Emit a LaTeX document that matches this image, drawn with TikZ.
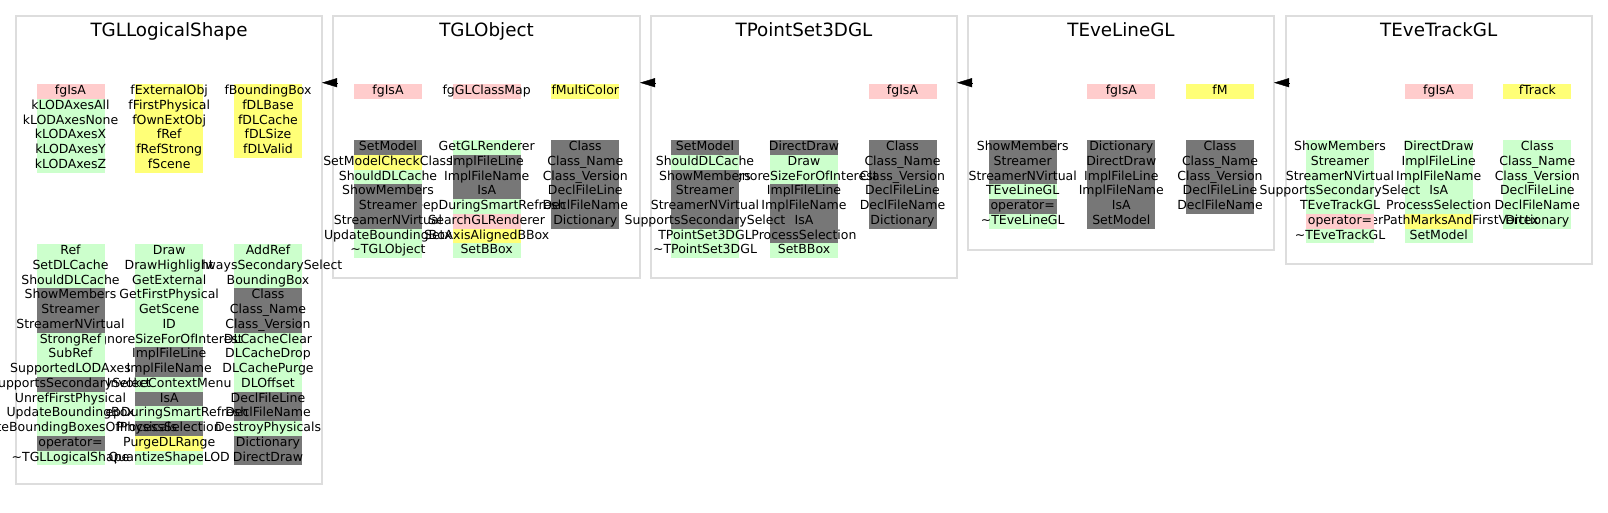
\documentclass[tikz,border=0pt]{standalone}
\usepackage{fontspec}
\setmainfont{DejaVu Sans}
\usetikzlibrary{arrows.meta}
\definecolor{rowP}{HTML}{FFCCCC}
\definecolor{rowG}{HTML}{CCFFCC}
\definecolor{rowY}{HTML}{FFFF77}
\definecolor{rowD}{HTML}{777777}
\definecolor{frameC}{HTML}{DDDDDD}
\tikzset{
  frame/.style={draw=frameC, line width=2pt, rectangle, inner sep=0pt, outer sep=0pt, anchor=north west},
  title/.style={anchor=base, inner sep=0pt, font=\fontsize{18.3}{20}\selectfont},
  lbl/.style={anchor=base, inner sep=0pt, font=\fontsize{12.5}{14}\selectfont},
  inh/.style={-{Triangle[length=15pt,width=9pt]}, line width=0.4pt, black}
}
% #1 name prefix, #2 x centre, #3 y top, #4 list colour/text
\newcommand\mcol[4]{%
  \foreach[count=\ri from 0] \cl/\tx in {#4}{%
    \fill[fill=row\cl] ({#2-34},{#3+\ri*14.75}) rectangle ({#2+34},{#3+(\ri+1)*14.75});}
  \foreach[count=\ri from 0] \cl/\tx in {#4}{%
    \node[lbl] (#1-\ri) at ({#2},{#3+\ri*14.75+10.6}) {\tx};}
}
\begin{document}
\begin{tikzpicture}[x=1pt,y=-1pt]
\fill[white] (0,0) rectangle (1608,512);
\useasboundingbox (0,0) rectangle (1608,512);

% frames
\node[frame, minimum width=306pt, minimum height=468.5pt] (F1) at (16,15.5) {};
\node[frame, minimum width=307pt, minimum height=262.5pt] (F2) at (333,15.5) {};
\node[frame, minimum width=306pt, minimum height=262.5pt] (F3) at (651,15.5) {};
\node[frame, minimum width=306pt, minimum height=234pt] (F4) at (968,15.5) {};
\node[frame, minimum width=306.5pt, minimum height=248.5pt] (F5) at (1285.5,15.5) {};

% titles
\path (F1.north) ++(0,21.2) node[title] (T1) {TGLLogicalShape};
\path (F2.north) ++(0,21.2) node[title] (T2) {TGLObject};
\path (F3.north) ++(0,21.2) node[title] (T3) {TPointSet3DGL};
\path (F4.north) ++(0,21.2) node[title] (T4) {TEveLineGL};
\path (F5.north) ++(0,21.2) node[title] (T5) {TEveTrackGL};

% ---------- TGLLogicalShape
\mcol{F1a3}{268}{84}{Y/fBoundingBox, Y/fDLBase, Y/fDLCache, Y/fDLSize, Y/fDLValid}
\mcol{F1a2}{169.2}{84}{Y/fExternalObj, Y/fFirstPhysical, Y/fOwnExtObj, Y/fRef, Y/fRefStrong, Y/fScene}
\mcol{F1a1}{70.5}{84}{P/fgIsA, G/kLODAxesAll, G/kLODAxesNone, G/kLODAxesX, G/kLODAxesY, G/kLODAxesZ}
\mcol{F1b3}{268}{244}{G/AddRef, G/AlwaysSecondarySelect, G/BoundingBox, D/Class, D/Class\_Name, D/Class\_Version, G/DLCacheClear, G/DLCacheDrop, G/DLCachePurge, G/DLOffset, D/DeclFileLine, D/DeclFileName, G/DestroyPhysicals, D/Dictionary, D/DirectDraw}
\mcol{F1b2}{169.2}{244}{G/Draw, G/DrawHighlight, G/GetExternal, G/GetFirstPhysical, G/GetScene, G/ID, G/IgnoreSizeForOfInterest, D/ImplFileLine, D/ImplFileName, G/InvokeContextMenu, D/IsA, G/KeepDuringSmartRefresh, D/ProcessSelection, Y/PurgeDLRange, G/QuantizeShapeLOD}
\mcol{F1b1}{70.5}{244}{G/Ref, G/SetDLCache, G/ShouldDLCache, D/ShowMembers, D/Streamer, D/StreamerNVirtual, G/StrongRef, G/SubRef, G/SupportedLODAxes, D/SupportsSecondarySelect, G/UnrefFirstPhysical, G/UpdateBoundingBox, G/UpdateBoundingBoxesOfPhysicals, D/operator=, G/\textasciitilde TGLLogicalShape}

% ---------- TGLObject
\mcol{F2a3}{585.3}{84}{Y/fMultiColor}
\mcol{F2a2}{486.7}{84}{P/fgGLClassMap}
\mcol{F2a1}{388}{84}{P/fgIsA}
\mcol{F2b3}{585.3}{140}{D/Class, D/Class\_Name, D/Class\_Version, D/DeclFileLine, D/DeclFileName, D/Dictionary}
\mcol{F2b2}{486.7}{140}{G/GetGLRenderer, D/ImplFileLine, D/ImplFileName, D/IsA, G/KeepDuringSmartRefresh, P/SearchGLRenderer, Y/SetAxisAlignedBBox, G/SetBBox}
\mcol{F2b1}{388}{140}{D/SetModel, Y/SetModelCheckClass, G/ShouldDLCache, D/ShowMembers, D/Streamer, D/StreamerNVirtual, G/UpdateBoundingBox, G/\textasciitilde TGLObject}

% ---------- TPointSet3DGL
\mcol{F3a3}{902.5}{84}{P/fgIsA}
\mcol{F3b3}{902.5}{140}{D/Class, D/Class\_Name, D/Class\_Version, D/DeclFileLine, D/DeclFileName, D/Dictionary}
\mcol{F3b2}{804}{140}{D/DirectDraw, G/Draw, G/IgnoreSizeForOfInterest, D/ImplFileLine, D/ImplFileName, D/IsA, D/ProcessSelection, G/SetBBox}
\mcol{F3b1}{705}{140}{D/SetModel, G/ShouldDLCache, D/ShowMembers, D/Streamer, D/StreamerNVirtual, D/SupportsSecondarySelect, G/TPointSet3DGL, G/\textasciitilde TPointSet3DGL}

% ---------- TEveLineGL
\mcol{F4a3}{1220}{84}{Y/fM}
\mcol{F4a2}{1121.3}{84}{P/fgIsA}
\mcol{F4b3}{1220}{140}{D/Class, D/Class\_Name, D/Class\_Version, D/DeclFileLine, D/DeclFileName}
\mcol{F4b2}{1121.3}{140}{D/Dictionary, D/DirectDraw, D/ImplFileLine, D/ImplFileName, D/IsA, D/SetModel}
\mcol{F4b1}{1022.7}{140}{D/ShowMembers, D/Streamer, D/StreamerNVirtual, G/TEveLineGL, D/operator=, G/\textasciitilde TEveLineGL}

% ---------- TEveTrackGL
\mcol{F5a3}{1537.3}{84}{Y/fTrack}
\mcol{F5a2}{1438.7}{84}{P/fgIsA}
\mcol{F5b3}{1537.3}{140}{G/Class, G/Class\_Name, G/Class\_Version, G/DeclFileLine, G/DeclFileName, G/Dictionary}
\mcol{F5b2}{1438.7}{140}{G/DirectDraw, G/ImplFileLine, G/ImplFileName, G/IsA, G/ProcessSelection, Y/RenderPathMarksAndFirstVertex, G/SetModel}
\mcol{F5b1}{1340}{140}{G/ShowMembers, G/Streamer, G/StreamerNVirtual, G/SupportsSecondarySelect, G/TEveTrackGL, P/operator=, G/\textasciitilde TEveTrackGL}

% inheritance arrows
\coordinate (A2) at (337,82.7);
\coordinate (A3) at (655,82.7);
\coordinate (A4) at (972,82.7);
\coordinate (A5) at (1289.5,82.7);
\draw[inh] (A2) -- (A2 -| F1.east);
\draw[inh] (A3) -- (A3 -| F2.east);
\draw[inh] (A4) -- (A4 -| F3.east);
\draw[inh] (A5) -- (A5 -| F4.east);
\end{tikzpicture}
\end{document}
